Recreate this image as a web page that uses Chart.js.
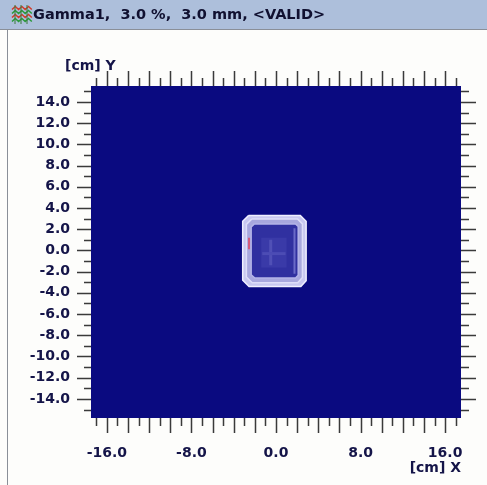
<!DOCTYPE html>
<html>
<head>
<meta charset="utf-8">
<script src="https://cdn.jsdelivr.net/npm/chart.js@4/dist/chart.umd.min.js"></script>
<style>
  html, body { margin: 0; padding: 0; background: #fdfdfb; }
  canvas { display: block; }
</style>
</head>
<body>
<canvas id="gamma" width="487" height="485"></canvas>
<script>
// Axis ranges (cm) and labelled tick values
const xRange = [-17.5, 17.5];
const yRange = [-15.8, 15.5];
const xTickValues = [-16, -8, 0, 8, 16];
const yTickValues = [14, 12, 10, 8, 6, 4, 2, 0, -2, -4, -6, -8, -10, -12, -14];
const titleText = 'Gamma1,  3.0 %,  3.0 mm, <VALID>';

// Gamma map contours of the irradiated field (cm)
const gammaOuterEdge = [
  [-2.6, 3.3], [2.3, 3.3], [2.85, 2.75], [2.85, -2.85],
  [2.35, -3.4], [-2.55, -3.4], [-3.15, -2.8], [-3.15, 2.75]
];
const gammaMidBand = [
  [-2.3, 2.95], [2.05, 2.95], [2.5, 2.5], [2.5, -2.55],
  [2.05, -3.05], [-2.25, -3.05], [-2.8, -2.5], [-2.8, 2.45]
];
const gammaInnerField = [
  [-2.05, 2.5], [1.85, 2.5], [2.1, 2.25], [2.1, -2.35],
  [1.85, -2.6], [-2.0, -2.6], [-2.35, -2.3], [-2.35, 2.2]
];
const gammaCore = [
  [-1.4, 1.2], [1.0, 1.2], [1.0, -1.6], [-1.4, -1.6]
];
const gammaStripeV = [[-0.5, 1.0], [-0.5, -1.4]];
const gammaStripeH = [[-1.3, -0.3], [0.9, -0.3]];
const gammaRightEdge = [[1.75, 2.1], [1.75, -2.2]];
const gammaHotEdge = [[-2.55, 1.2], [-2.55, 0.1]];

const pts = arr => arr.map(([x, y]) => ({ x, y }));

const TICK_COLOR = '#3a3a3a';
const LABEL_COLOR = '#141448';
const LABEL_FONT = { family: 'DejaVu Sans', weight: 'bold', size: 14 };

// Window frame, caption bar, plot background and axis tick marks
const framePlugin = {
  id: 'frame',
  beforeDraw(chart) {
    const { ctx, chartArea: a, width } = chart;
    ctx.save();
    // caption bar
    ctx.fillStyle = '#adbfdb';
    ctx.fillRect(0, 0, width, 29);
    ctx.fillStyle = '#8a8f98';
    ctx.fillRect(0, 29, width, 1);
    ctx.fillRect(7, 30, 1, chart.height - 30);
    // caption icon
    const rows = [['#d23a2a', 8], ['#2a9a3a', 12], ['#d23a2a', 16], ['#2a9a3a', 20]];
    ctx.lineWidth = 1.5;
    rows.forEach(([c, y]) => {
      ctx.strokeStyle = c;
      ctx.beginPath();
      for (let i = 0; i <= 6; i++) {
        const px = 12 + i * 3.3;
        const py = y + (i % 2 ? -1.5 : 1.5);
        i ? ctx.lineTo(px, py) : ctx.moveTo(px, py);
      }
      ctx.stroke();
    });
    ctx.strokeStyle = '#3a7a3a';
    ctx.lineWidth = 1;
    [15, 21, 27].forEach(x => {
      ctx.beginPath(); ctx.moveTo(x, 5); ctx.lineTo(x, 24); ctx.stroke();
    });
    // caption text
    ctx.fillStyle = '#101030';
    ctx.font = 'bold 14.5px "DejaVu Sans"';
    ctx.textBaseline = 'middle';
    ctx.textAlign = 'left';
    ctx.fillText(titleText, 33, 15);
    // plot background
    ctx.fillStyle = '#0a0a80';
    ctx.fillRect(a.left, a.top, a.right - a.left, a.bottom - a.top);
    ctx.restore();
  },
  afterDraw(chart) {
    const { ctx, chartArea: a, scales } = chart;
    const xs = scales.x, ys = scales.y;
    ctx.save();
    ctx.strokeStyle = TICK_COLOR;
    ctx.lineWidth = 1.5;
    ctx.beginPath();
    for (let v = Math.ceil(xRange[0]); v <= Math.floor(xRange[1]); v++) {
      const px = Math.round(xs.getPixelForValue(v)) + 0.5;
      const len = v % 2 === 0 ? 15 : 8;
      ctx.moveTo(px, a.top - len); ctx.lineTo(px, a.top);
      ctx.moveTo(px, a.bottom); ctx.lineTo(px, a.bottom + len);
    }
    for (let v = Math.ceil(yRange[0]); v <= Math.floor(yRange[1]); v++) {
      const py = Math.round(ys.getPixelForValue(v)) + 0.5;
      const len = v % 2 === 0 ? 14 : 7;
      ctx.moveTo(a.left - len, py); ctx.lineTo(a.left, py);
      ctx.moveTo(a.right, py); ctx.lineTo(a.right + len + 1, py);
    }
    ctx.stroke();
    // axis names
    ctx.fillStyle = LABEL_COLOR;
    ctx.font = 'bold 14px "DejaVu Sans"';
    ctx.textBaseline = 'middle';
    ctx.textAlign = 'left';
    ctx.fillText('[cm] Y', 65, 66);
    ctx.textAlign = 'right';
    ctx.fillText('[cm] X', 461, 468);
    ctx.restore();
  }
};

// Slight softening of the measured gamma image
const softPlugin = {
  id: 'soft',
  beforeDatasetsDraw(chart) { chart.ctx.save(); chart.ctx.filter = 'blur(0.7px)'; },
  afterDatasetsDraw(chart) { chart.ctx.restore(); }
};

const region = (data, fillColor, edgeColor, edgeWidth, order) => ({
  data: pts(data), showLine: true, fill: 'shape', tension: 0,
  backgroundColor: fillColor, borderColor: edgeColor, borderWidth: edgeWidth,
  pointRadius: 0, order
});
const stroke = (data, color, width, order) => ({
  data: pts(data), showLine: true, fill: false,
  borderColor: color, borderWidth: width, pointRadius: 0, order
});

const closed = arr => arr.concat([arr[0]]);

new Chart(document.getElementById('gamma'), {
  type: 'scatter',
  data: {
    datasets: [
      region(closed(gammaOuterEdge), '#c8c8f0', '#f0f0ff', 1.5, 8),
      region(closed(gammaMidBand), '#a8a8de', '#dedef8', 1.5, 7),
      region(closed(gammaInnerField), '#3030a0', '#b4b4e8', 1.5, 6),
      region(closed(gammaCore), '#3a3aa8', 'rgba(0,0,0,0)', 0, 5),
      stroke(gammaStripeV, '#5050b6', 3, 4),
      stroke(gammaStripeH, '#4c4cb4', 3, 3),
      stroke(gammaRightEdge, '#6a6ac8', 2, 2),
      stroke(gammaHotEdge, '#d65a7a', 2, 1)
    ]
  },
  options: {
    responsive: false,
    animation: false,
    devicePixelRatio: 1,
    layout: { padding: { top: 86, right: 26, bottom: 0, left: 0 } },
    plugins: { legend: { display: false }, tooltip: { enabled: false }, title: { display: false } },
    scales: {
      x: {
        type: 'linear', min: xRange[0], max: xRange[1],
        grid: { display: false, drawTicks: false }, border: { display: false },
        afterFit: s => { s.height = 67; s.paddingLeft = 0; s.paddingRight = 0; },
        afterBuildTicks: s => { s.ticks = xTickValues.map(v => ({ value: v })); },
        ticks: {
          autoSkip: false, maxRotation: 0, padding: 27, color: LABEL_COLOR, font: LABEL_FONT,
          callback: v => v.toFixed(1)
        }
      },
      y: {
        type: 'linear', min: yRange[0], max: yRange[1],
        grid: { display: false, drawTicks: false }, border: { display: false },
        afterFit: s => { s.width = 91; s.paddingTop = 0; s.paddingBottom = 0; },
        afterBuildTicks: s => { s.ticks = yTickValues.map(v => ({ value: v })); },
        ticks: {
          autoSkip: false, padding: 21, color: LABEL_COLOR, font: LABEL_FONT,
          callback: v => v.toFixed(1)
        }
      }
    }
  },
  plugins: [framePlugin, softPlugin]
});
</script>
</body>
</html>
